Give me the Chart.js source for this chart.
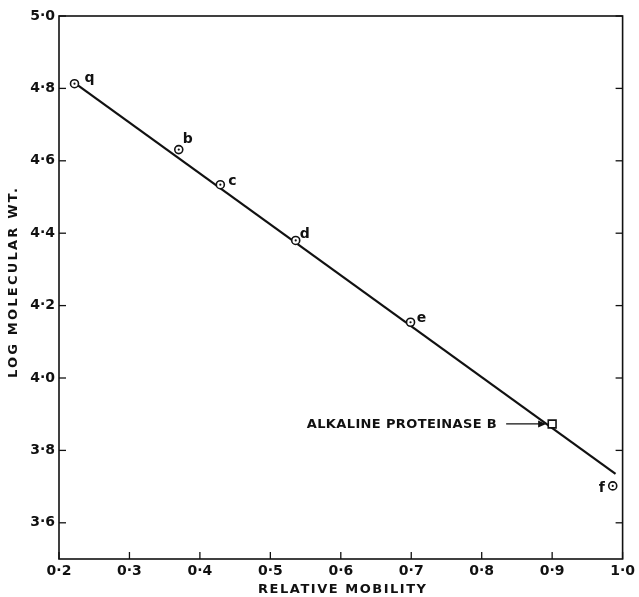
<!DOCTYPE html>
<html><head><meta charset="utf-8">
<script src="https://cdn.jsdelivr.net/npm/chart.js@4/dist/chart.umd.min.js"></script>
<style>html,body{margin:0;padding:0;background:#fff}#wrap{width:639px;height:597px}</style>
</head><body><div id="wrap"><canvas id="c" width="639" height="597"></canvas></div>
<script>
const markerLabels = ['q','b','c','d','e','f'];
const markerX = [0.222, 0.370, 0.429, 0.536, 0.699, 0.986];
const markerY = [4.813, 4.631, 4.534, 4.380, 4.154, 3.702];
const proteinX = [0.90];
const proteinY = [3.873];
const fitX = [0.222, 0.990];
const fitY = [4.815, 3.735];
const xTicks = [0.2,0.3,0.4,0.5,0.6,0.7,0.8,0.9,1.0];
const yTicks = [3.6,3.8,4.0,4.2,4.4,4.6,4.8,5.0];
const annotationText = 'ALKALINE PROTEINASE B';
const xTitle = 'RELATIVE MOBILITY';
const yTitle = 'LOG MOLECULAR WT.';

const fmt = v => v.toFixed(1).replace('.', '\u00B7');
const ink = '#111';

function spacedText(ctx, text, x, y, targetWidth) {
  ctx.letterSpacing = '0px';
  const w = ctx.measureText(text).width;
  const ls = Math.max(0, (targetWidth - w) / (text.length - 1));
  ctx.letterSpacing = ls + 'px';
  return ls;
}

const framePlugin = {
  id: 'frame',
  afterDraw(chart) {
    const {ctx, chartArea: a, scales: {x, y}} = chart;
    ctx.save();
    ctx.strokeStyle = ink; ctx.lineWidth = 1.6;
    ctx.strokeRect(a.left, a.top, a.right - a.left, a.bottom - a.top);
    ctx.lineWidth = 1.3;
    xTicks.forEach(v => { const p = x.getPixelForValue(v); ctx.beginPath(); ctx.moveTo(p, a.bottom); ctx.lineTo(p, a.bottom - 7); ctx.stroke(); });
    yTicks.forEach(v => { const p = y.getPixelForValue(v);
      ctx.beginPath(); ctx.moveTo(a.left, p); ctx.lineTo(a.left + 7, p); ctx.stroke();
      ctx.beginPath(); ctx.moveTo(a.right, p); ctx.lineTo(a.right - 7, p); ctx.stroke(); });
    // point letters
    ctx.fillStyle = ink; ctx.font = 'bold 14px "DejaVu Sans"'; ctx.textBaseline = 'middle'; ctx.textAlign = 'center';
    const offs = [[15,-5],[9,-10],[12,-3],[9,-6],[11,-4],[-11,2]];
    markerLabels.forEach((t, i) => {
      ctx.fillText(t, x.getPixelForValue(markerX[i]) + offs[i][0], y.getPixelForValue(markerY[i]) + offs[i][1]);
    });
    // annotation with arrow
    const px = x.getPixelForValue(proteinX[0]), py = y.getPixelForValue(proteinY[0]);
    ctx.font = 'bold 13px "DejaVu Sans"'; ctx.textAlign = 'right';
    spacedText(ctx, annotationText, 0, 0, 190);
    ctx.fillText(annotationText, px - 55, py + 1);
    ctx.letterSpacing = '0px';
    ctx.lineWidth = 1.2;
    ctx.beginPath(); ctx.moveTo(px - 46, py); ctx.lineTo(px - 8, py); ctx.stroke();
    ctx.beginPath(); ctx.moveTo(px - 6, py); ctx.lineTo(px - 14, py - 3.5); ctx.lineTo(px - 14, py + 3.5); ctx.closePath(); ctx.fill();
    // axis titles
    ctx.font = 'bold 13px "DejaVu Sans"'; ctx.textAlign = 'center';
    spacedText(ctx, xTitle, 0, 0, 168);
    ctx.fillText(xTitle, (a.left + a.right) / 2 + 2, 590);
    ctx.save();
    ctx.translate(14, 282); ctx.rotate(-Math.PI / 2);
    spacedText(ctx, yTitle, 0, 0, 190);
    ctx.fillText(yTitle, 0, 0);
    ctx.restore();
    ctx.restore();
  }
};

new Chart(document.getElementById('c'), {
  type: 'scatter',
  data: {
    datasets: [
      {type: 'line', order: 3, data: fitX.map((v, i) => ({x: v, y: fitY[i]})), borderColor: ink, borderWidth: 2.2, pointRadius: 0, fill: false},
      {order: 2, data: markerX.map((v, i) => ({x: v, y: markerY[i]})), pointStyle: 'circle', pointRadius: 4, borderColor: ink, borderWidth: 1.6, backgroundColor: '#fff'},
      {order: 1, data: markerX.map((v, i) => ({x: v, y: markerY[i]})), pointStyle: 'circle', pointRadius: 1.1, borderWidth: 0, borderColor: ink, backgroundColor: ink},
      {order: 2, data: proteinX.map((v, i) => ({x: v, y: proteinY[i]})), pointStyle: 'rect', pointRadius: 5.5, borderColor: ink, borderWidth: 1.6, backgroundColor: '#fff'}
    ]
  },
  options: {
    responsive: false, animation: false, devicePixelRatio: 1,
    layout: {padding: {top: 16, right: 11, left: 0, bottom: 0}},
    plugins: {legend: {display: false}, tooltip: {enabled: false}},
    scales: {
      x: {type: 'linear', min: 0.2, max: 1.0,
        afterBuildTicks: s => { s.ticks = xTicks.map(v => ({value: v})); },
        afterFit: s => { s.height = 38; },
        grid: {display: false, drawTicks: false, tickLength: 0}, border: {display: false},
        ticks: {color: ink, font: {family: 'DejaVu Sans', size: 14, weight: 'bold'}, padding: 4, maxRotation: 0, callback: v => fmt(v)},
        title: {display: false}
      },
      y: {type: 'linear', min: 3.5, max: 5.0,
        afterBuildTicks: s => { s.ticks = yTicks.map(v => ({value: v})); },
        afterFit: s => { s.width = 59; },
        grid: {display: false, drawTicks: false, tickLength: 0}, border: {display: false},
        ticks: {color: ink, font: {family: 'DejaVu Sans', size: 14, weight: 'bold'}, padding: 4, callback: v => fmt(v)},
        title: {display: false}
      }
    }
  },
  plugins: [framePlugin]
});
</script></body></html>
